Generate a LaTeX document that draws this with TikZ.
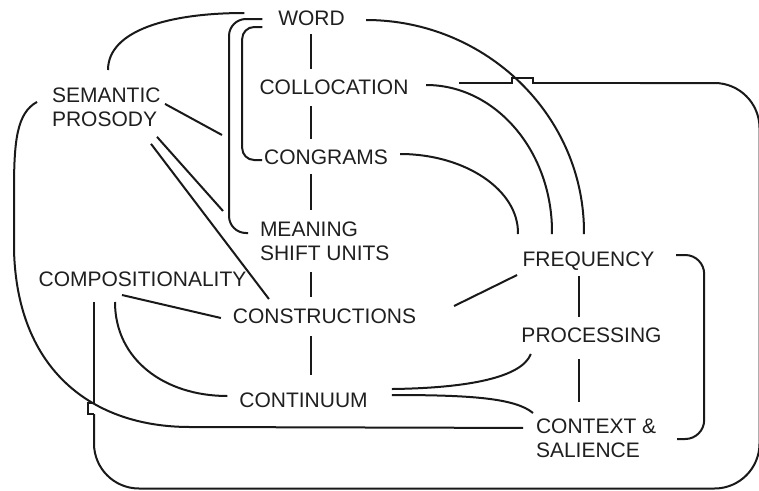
\documentclass[tikz,border=0pt]{standalone}
\usepackage{fontspec}
\setmainfont{Liberation Sans}
\usetikzlibrary{calc}
\tikzset{
	lbl/.style={font=\fontsize{21}{24}\selectfont, text=black!88, inner sep=0pt, anchor=base, text height=15pt, text depth=0pt},
	lbl2/.style={font=\fontsize{21}{24}\selectfont, text=black!88, inner sep=0pt, anchor=north west, align=left}
}

\begin{document}
\begin{tikzpicture}[x=1pt, y=-1pt, line width=2pt, black!90]
			%%%%% START %%%%%
			\useasboundingbox (0,0) rectangle (759,490);
			
			\node[lbl] (word) at (311.5,25) {WORD};
			\node[lbl] (coll) at (334,94) {COLLOCATION};
			\node[lbl] (cong) at (326,164) {CONGRAMS};
			\node[lbl2] (msu) at (259,221) {MEANING\\SHIFT UNITS};
			\node[lbl] (cons) at (324.5,323) {CONSTRUCTIONS};
			\node[lbl] (cont) at (303.5,407) {CONTINUUM};
			\node[lbl2] (semp) at (51,87) {SEMANTIC\\PROSODY};
			\node[lbl] (comp) at (142.5,286) {COMPOSITIONALITY};
			\node[lbl] (freq) at (588.5,266) {FREQUENCY};
			\node[lbl] (proc) at (591.5,342) {PROCESSING};
			\node[lbl2] (ctx) at (535,418) {CONTEXT \&\\SALIENCE};
			
			\coordinate (spine) at ($(word.south)+(-0.5,0)$);
			\coordinate (rspine) at ($(freq.south)+(-9.5,0)$);
			
			% middle column
			\draw ($(spine)+(0,8)$) -- ($(spine |- coll.north)+(0,-9)$);
			\draw ($(spine |- coll.south)+(0,11)$) -- ($(spine |- cong.north)+(0,-9)$);
			\draw ($(spine |- cong.south)+(0,9)$) -- ($(spine |- msu.north)+(0,-11)$);
			\draw ($(spine |- msu.south)+(0,10)$) -- ($(spine |- cons.north)+(0,-10)$);
			\draw ($(spine |- cons.south)+(0,12)$) -- ($(spine |- cont.north)+(0,-16)$);
			
			% right column
			\draw ($(rspine)+(0,9)$) -- ($(rspine |- proc.north)+(0,-9)$);
			\draw ($(rspine |- proc.south)+(0,16)$) -- ($(rspine |- ctx.north)+(0,-16)$);
			\draw[rounded corners=19pt] ($(freq.east)+(20.6,-3.5)$) -| ($(ctx.north east)+(47,21)$) -- ($(ctx.north east)+(20,21)$);
			
			% brackets
			\draw[rounded corners=17pt] ($(word.west)+(-15,1.5)$) -| ($(msu.north west)+(-30,12)$) -- ($(msu.north west)+(-11,12)$);
			\draw[rounded corners=12pt] ($(word.west)+(-15,9.5)$) -| ($(cong.west)+(-21,3.5)$) -- ($(cong.west)+(-1,3.5)$);
			
			% semantic prosody
			\draw ($(semp.north west)+(57,-17)$) .. controls (108,30) and (170,13) .. ($(word.west)+(-33,-4.5)$);
			\draw ($(semp.east)+(3.5,-3.5)$) -- ($(msu.north west)+(-37,-86)$);
			\draw ($(semp.south east)+(-4.5,9)$) -- ($(msu.north west)+(-36,-10)$);
			\draw ($(semp.south east)+(-10.5,16)$) -- ($(cons.north west)+(37,-8)$);
			\draw ($(semp.west)+(-14,-5.5)$) .. controls (17,113) and (14,140) .. (14,190) -- (14,250) .. controls (17,370) and (92,427) .. (190,427) -- ($(ctx.west)+(-12,-10.5)$);
			
			% compositionality
			\draw ($(comp.south)+(-20.5,8)$) -- ($(cons.west)+(-11,2.5)$);
			\draw ($(comp.south)+(-27.5,15)$) .. controls (115,360) and (165,396) .. ($(cont.west)+(-11,-3.5)$);
			
			% to frequency
			\draw ($(cons.east)+(37,-9.5)$) -- ($(freq.west)+(-4.5,16.5)$);
			\draw ($(cong.east)+(11.2,-2.5)$) .. controls (465,154) and (519,190) .. ($(freq.north west)+(-3.6,-16)$);
			\draw ($(coll.east)+(16.7,-1.5)$) .. controls (496,85) and (553,152) .. ($(freq.north west)+(30.4,-16)$);
			\draw ($(word.east)+(20.3,2.5)$) .. controls (486,20) and (585,116) .. ($(freq.north west)+(62.4,-16)$);
			
			% continuum
			\draw ($(cont.east)+(23.3,-10.5)$) .. controls (470,388) and (522,377) .. ($(proc.south west)+(10.3,11)$);
			\draw ($(cont.east)+(23.3,-4.5)$) .. controls (470,395) and (515,398) .. ($(ctx.north west)+(-2,-5)$);
			
			% long loop with hops
			\draw ($(comp.south)+(-48.5,15)$) -- (94,403) -- (88,403) -- (88,414) -- (94,414) coordinate (hopA);
			\draw[rounded corners=45pt] (hopA) -- (94,488.5) -- (759.5,488.5) -- (759.5,83) -- (640,83) coordinate (hopB);
			\draw (hopB) -- (533,83) -- (533,77.5) -- (512,77.5) -- (512,83) -- ($(coll.east)+(49.7,-3.5)$);
			
			%%%%% END %%%%%
		\end{tikzpicture}
\end{document}
